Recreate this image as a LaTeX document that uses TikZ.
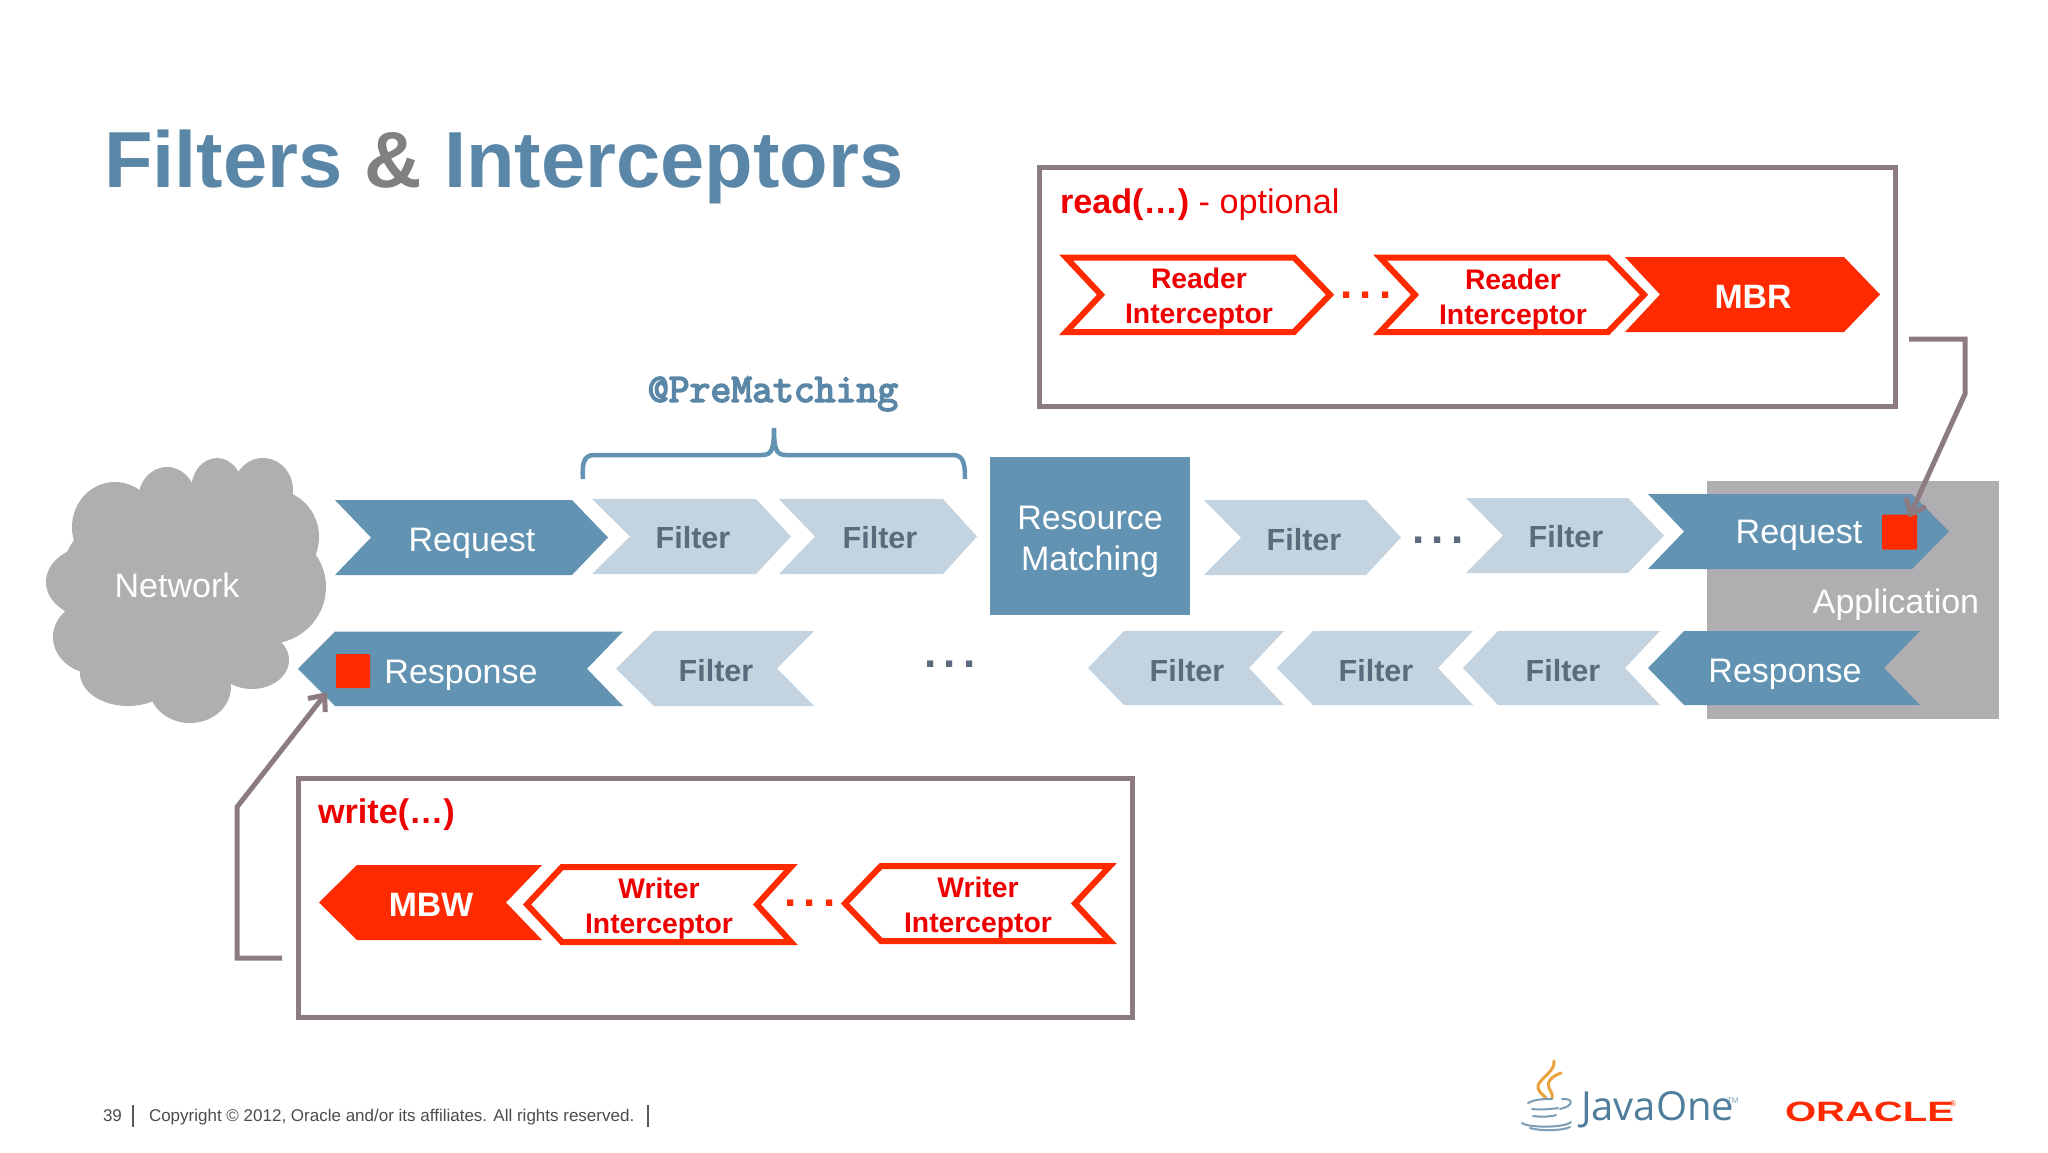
\documentclass[tikz,border=0pt]{standalone}
\usepackage{fontspec}
\setmainfont{Liberation Sans}
\newfontfamily\javafont{Open Sans}
\newfontfamily\premfont[FakeBold=4]{Latin Modern Mono}
\usetikzlibrary{arrows.meta}
\definecolor{steel}{HTML}{6293B2}
\definecolor{pale}{HTML}{C3D4E0}
\definecolor{ftext}{HTML}{5B6B7D}
\definecolor{cloudgray}{HTML}{B0AEB0}
\definecolor{hot}{HTML}{FF2A00}
\definecolor{redtext}{HTML}{EE0000}
\definecolor{boxline}{HTML}{8C7B80}
\definecolor{titleblue}{HTML}{5A87A8}
\definecolor{titlegray}{HTML}{808080}
\definecolor{javablue}{HTML}{4F7D9C}
\definecolor{flame}{HTML}{E8A33D}
\newcommand\rchev[7]{\path[#1] (#2,#6) -- (#4,#6) -- (#5,{(#6+#7)/2}) -- (#4,#7) -- (#2,#7) -- (#3,{(#6+#7)/2}) -- cycle;}
\newcommand\lchev[7]{\path[#1] (#3,#6) -- (#5,#6) -- (#4,{(#6+#7)/2}) -- (#5,#7) -- (#3,#7) -- (#2,{(#6+#7)/2}) -- cycle;}
\newcommand\fs[2]{\fontsize{#1}{#2}\selectfont}
\newcommand\threedots{.\kern7.3pt.\kern7.3pt.}
\tikzset{
  lbl/.style={inner sep=0pt,outer sep=0pt,align=center},
  whitelbl/.style={lbl,text=white,font=\fs{34}{41}},
  filterlbl/.style={lbl,text=ftext,font=\fs{30.5}{36}\bfseries},
  icptlbl/.style={lbl,text=redtext,font=\fs{28.3}{35}\bfseries},
  hotlbl/.style={lbl,text=white,font=\fs{33.8}{40}\bfseries},
  dotsred/.style={lbl,text=hot,font=\fs{44}{44}\bfseries},
  dotsgray/.style={lbl,text=ftext,font=\fs{44}{44}\bfseries},
  steelshape/.style={fill=steel},
  paleshape/.style={fill=pale},
  hotshape/.style={fill=hot},
  outlineshape/.style={draw=hot,fill=white,line width=6pt,miter limit=10},
  framebox/.style={draw=boxline,fill=white,line width=5pt,inner sep=0pt,outer sep=0pt},
  square/.style={fill=hot,inner sep=0pt,outer sep=0pt,rounded corners=1pt},
  flow/.style={draw=boxline,line width=5pt,line join=miter,-{Straight Barb[length=13pt,width=22pt,line width=5pt]}},
  lobe/.style={fill=cloudgray},
  cupline/.style={draw=javablue!75,line width=2pt,line cap=round},
  flameline/.style={draw=flame,line width=3pt,line cap=round}
}
\begin{document}
\begin{tikzpicture}[x=1pt,y=-1pt]
\useasboundingbox (0,0) rectangle (2048,1152);
\fill[white] (0,0) rectangle (2048,1152);
% title
\node[lbl,anchor=base west] (title) at (104,187) {\fs{79.5}{84}\bfseries\textcolor{titleblue}{Filters} \textcolor{titlegray}{\&} \textcolor{titleblue}{Interceptors}};
% read box
\node[framebox,minimum width=856pt,minimum height=239pt] (readbox) at (1467,286.5) {};
\node[lbl,anchor=base west,text=redtext,font=\fs{34.2}{40}] (readlbl) at (1060,213) {\textbf{read(…)} - optional};
\rchev{outlineshape}{1066}{1101}{1294}{1330}{257.5}{332}
\node[icptlbl] (ri1) at (1199,298.5) {Reader\\Interceptor};
\node[dotsred] (rd) at (1366,295) {\threedots};
\rchev{outlineshape}{1380}{1415}{1608}{1644}{257.5}{332}
\node[icptlbl] (ri2) at (1513,299.5) {Reader\\Interceptor};
\rchev{hotshape}{1625}{1660}{1844}{1880}{257}{332}
\node[hotlbl] (mbr) at (1753,297) {MBR};
% application
\fill[cloudgray] (1707,481) rectangle (1999,719);
\node[whitelbl,anchor=center] (app) at (1896,605) {Application};
% network cloud
\foreach \cx/\cy/\rx/\ry in {115/527/43/45,167/500/29/33,217/490/26/32,263/490/30/32,274/537/45/47,268/587/58/57,96/582/50/37,96/637/43/37,128/673/48/33,190/687/41/36,252/660/37/29,185/583/125/93}
  \fill[lobe] (\cx,\cy) ellipse [x radius=\rx,y radius=\ry];
\node[whitelbl] (net) at (177,585) {Network};
% request row
\rchev{steelshape}{335}{371}{572}{608}{500}{575}
\node[whitelbl] (req1) at (472,543) {Request};
\rchev{paleshape}{592}{630}{756}{791}{499}{574}
\node[filterlbl] (f1) at (693,538) {Filter};
\rchev{paleshape}{779}{815}{943}{977}{499}{574}
\node[filterlbl] (f2) at (880,538) {Filter};
\node[draw=none,fill=steel,minimum width=200pt,minimum height=158pt,inner sep=0pt,outer sep=0pt] (rmbox) at (1090,536) {};
\node[whitelbl] (rm) at (1090,541.5) {Resource\\Matching};
\rchev{paleshape}{1204}{1241}{1366}{1401}{500}{575}
\node[filterlbl] (f3) at (1304,540) {Filter};
\node[dotsgray] (d1) at (1438,540) {\threedots};
\rchev{paleshape}{1466}{1503}{1628}{1664}{498}{573}
\node[filterlbl] (f4) at (1566,537) {Filter};
\rchev{steelshape}{1648}{1684}{1912}{1949}{494}{569}
\node[whitelbl] (req2) at (1799,535) {Request};
\node[square,minimum width=35pt,minimum height=35pt] (reqsq) at (1899.5,532) {};
% response row
\lchev{steelshape}{298}{335}{587}{623}{631.5}{706}
\node[square,minimum width=34pt,minimum height=34pt] (respsq) at (353,671) {};
\node[whitelbl] (resp1) at (461,675) {Response};
\lchev{paleshape}{616}{654}{777}{814}{631}{706}
\node[filterlbl] (f5) at (716,670.5) {Filter};
\node[dotsgray] (d2) at (950,664) {\threedots};
\lchev{paleshape}{1088}{1124}{1249}{1284}{631}{705}
\node[filterlbl] (f6) at (1187,671) {Filter};
\lchev{paleshape}{1277}{1313}{1438}{1473}{631}{705}
\node[filterlbl] (f7) at (1376,671) {Filter};
\lchev{paleshape}{1463}{1498}{1625}{1660}{631}{705}
\node[filterlbl] (f8) at (1563,671) {Filter};
\lchev{steelshape}{1648}{1684}{1884}{1920}{631}{705}
\node[whitelbl] (resp2) at (1785,674.5) {Response};
% prematching
\node[lbl,text=titleblue,font=\premfont\fs{40.5}{42}] (prem) at (773,394) {@PreMatching};
\draw[steel,line width=4.5pt] (583,479) .. controls (582,465) and (583,455) .. (594,455) -- (762,455) .. controls (772,455) and (774,449) .. (774,428) .. controls (774,449) and (776,455) .. (786,455) -- (953,455) .. controls (964,455) and (965,465) .. (965,479);
% write box
\node[framebox,minimum width=834pt,minimum height=239pt] (writebox) at (715,897.5) {};
\node[lbl,anchor=base west,text=redtext,font=\fs{34.2}{40}\bfseries] (writelbl) at (318,823) {write(…)};
\lchev{hotshape}{319}{357}{506}{542}{865}{940}
\node[hotlbl] (mbw) at (431,905) {MBW};
\node[dotsred] (wd) at (810,903) {\threedots};
\lchev{outlineshape}{527}{562}{757}{791}{867}{942}
\node[icptlbl] (wi1) at (659,909) {Writer\\Interceptor};
\lchev{outlineshape}{845}{881}{1075}{1110}{866}{941}
\node[icptlbl] (wi2) at (978,908) {Writer\\Interceptor};
% connectors
\draw[flow] ([shift={(14pt,67pt)}]readbox.south east) -- (1965,339) -- (1965,394) -- ([shift={(-8pt,-3pt)}]reqsq.north east);
\draw[flow] ([shift={(-16pt,-60.5pt)}]writebox.west) -- (237,958) -- (237,807) -- ([shift={(-9pt,-4pt)}]respsq.south west);
% footer
\node[lbl,anchor=base west,text=black!70,font=\fs{17}{20}] (pg) at (103,1121) {39};
\node[lbl,anchor=base west,text=black!70,font=\fs{17}{20}] (copy) at (149,1121) {Copyright © 2012, Oracle and/or its affiliates. All rights reserved.};
\draw[black!65,line width=1.2pt] (133,1105) -- (133,1127);
\draw[black!65,line width=1.2pt] (648,1105) -- (648,1127);
% JavaOne logo
\draw[flameline] (1554,1061) .. controls (1556,1072) and (1536,1080) .. (1538,1088) .. controls (1539,1092) and (1543,1095) .. (1546,1098);
\draw[flameline] (1561,1073) .. controls (1552,1076) and (1546,1082) .. (1549,1088) .. controls (1551,1092) and (1553,1095) .. (1552,1098);
\draw[cupline] (1528,1103) .. controls (1535,1099) and (1545,1099) .. (1552,1099);
\draw[cupline] (1532,1109) .. controls (1540,1110) and (1552,1109) .. (1558,1108);
\draw[cupline] (1533,1116) .. controls (1540,1117) and (1550,1117) .. (1556,1115);
\draw[cupline] (1562,1099) .. controls (1574,1098) and (1574,1106) .. (1560,1109);
\draw[cupline] (1522,1123) .. controls (1528,1128) and (1565,1128) .. (1571,1122);
\draw[cupline] (1530,1128) .. controls (1540,1131) and (1562,1131) .. (1570,1127);
\node[lbl,anchor=base west,text=javablue,font=\javafont\fs{40}{44}] (java) at (1581,1120) {JavaOne};
\node[lbl,anchor=base west,text=javablue!70,font=\fs{8}{8}] (tm) at (1727,1103) {TM};
% Oracle logo
\node[lbl,anchor=base west,text=hot] (oracle) at (1785,1121) {\scalebox{1.43}[1]{\fs{28}{30}\bfseries ORACLE}};
\node[lbl,anchor=base west,text=hot,font=\fs{8}{8}] (reg) at (1950,1106) {®};
\end{tikzpicture}
\end{document}
